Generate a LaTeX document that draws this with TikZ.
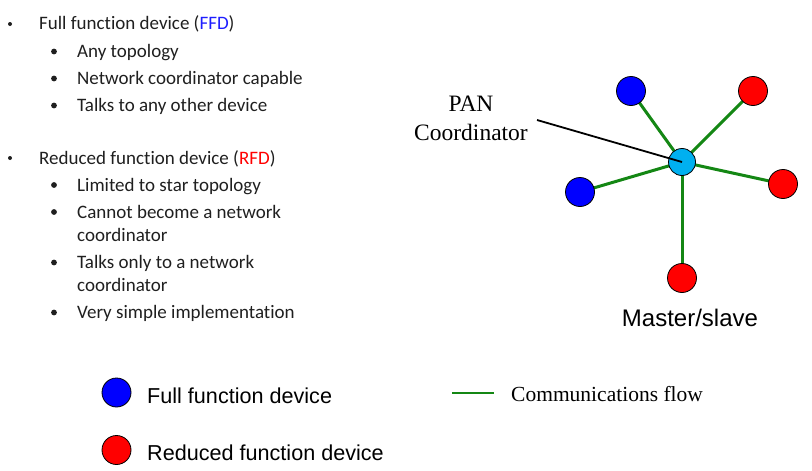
\documentclass[tikz,border=0pt]{standalone}
\usepackage{fontspec}
\usetikzlibrary{shapes.geometric,backgrounds}
\setmainfont[Ligatures={NoCommon}]{Carlito}
\newfontfamily\arialfont{Liberation Sans}
\newfontfamily\timesfont{Liberation Serif}
\definecolor{ffdblue}{RGB}{30,30,255}
\definecolor{hubcyan}{RGB}{0,176,240}
\definecolor{flowgreen}{RGB}{20,135,20}
\begin{document}
\begin{tikzpicture}[x=1pt,y=-1pt,
  bodytext/.style={anchor=base west,inner sep=0pt,text=black!88,font=\fontsize{19}{22}\selectfont},
  dotA/.style={circle,fill=black!88,inner sep=0pt,minimum size=4pt},
  dotB/.style={circle,fill=black!88,inner sep=0pt,minimum size=5.8pt},
  dev/.style={circle,draw=black,line width=0.8pt,inner sep=0pt,minimum size=29pt},
  ffd/.style={dev,fill=blue},
  rfd/.style={dev,fill=red},
  hub/.style={dev,fill=hubcyan,minimum size=27pt},
  link/.style={draw=flowgreen,line width=3pt},
  pointer/.style={draw=black,line width=1.8pt},
  legdev/.style={ellipse,draw=black,line width=0.8pt,inner sep=0pt,minimum width=29pt,minimum height=29pt},
  legend/.style={anchor=base west,inner sep=0pt,font=\arialfont\fontsize{21.6}{24}\selectfont},
  serif/.style={inner sep=0pt,font=\timesfont\fontsize{23.5}{29}\selectfont}]
\useasboundingbox (0,0) rectangle (812,471);
% bullet list
\node[dotA] (b1) at (10,24) {};
\node[bodytext] (t1) at (39,30) {Full function device (\textcolor{ffdblue}{FFD})};
\node[dotB] (s1) at (54,51.5) {};
\node[bodytext] (t2) at (77,57.5) {Any topology};
\node[dotB] (s2) at (54,78.5) {};
\node[bodytext] (t3) at (77,84.5) {Network coordinator capable};
\node[dotB] (s3) at (54,105.5) {};
\node[bodytext] (t4) at (77,111.5) {Talks to any other device};
\node[dotA] (b2) at (10,158) {};
\node[bodytext] (t5) at (39,164) {Reduced function device (\textcolor{red}{RFD})};
\node[dotB] (s4) at (54,185) {};
\node[bodytext] (t6) at (77,191) {Limited to star topology};
\node[dotB] (s5) at (54,212) {};
\node[bodytext] (t7) at (77,218) {Cannot become a network};
\node[bodytext] (t8) at (77,241) {coordinator};
\node[dotB] (s6) at (54,262.5) {};
\node[bodytext] (t9) at (77,268.5) {Talks only to a network};
\node[bodytext] (t10) at (77,291.5) {coordinator};
\node[dotB] (s7) at (54,312.5) {};
\node[bodytext] (t11) at (77,318.5) {Very simple implementation};
% star network
\node[ffd] (n1) at (631,91) {};
\node[rfd] (n2) at (753,91) {};
\node[rfd] (n3) at (783,184) {};
\node[rfd] (n4) at (682,278) {};
\node[ffd] (n5) at (580,192) {};
\node[hub] (pan) at (682,162) {};
\begin{pgfonlayer}{background}
\foreach \n in {n1,n2,n3,n4,n5} \draw[link] (pan.center) -- (\n.center);
\end{pgfonlayer}
\node[serif,align=center] (panlbl) at (471,118) {PAN\\Coordinator};
\coordinate (ptrstart) at (537,120);
\draw[pointer] (ptrstart) -- (pan.center);
\node[inner sep=0pt,font=\arialfont\fontsize{24}{28}\selectfont] (ms) at (690,318) {Master/slave};
% legend
\node[legdev,fill=blue] (lf) at (116.5,392.5) {};
\node[legend] (lft) at (147,403) {Full function device};
\node[legdev,fill=red] (lr) at (116.5,450) {};
\node[legend] (lrt) at (147,460.5) {Reduced function device};
\coordinate (cl1) at (452,393);
\coordinate (cl2) at (494,393);
\draw[draw=flowgreen,line width=2pt] (cl1) -- (cl2);
\node[serif,anchor=base west,font=\timesfont\fontsize{21.5}{26}\selectfont] (clt) at (511,401.5) {Communications flow};
\end{tikzpicture}
\end{document}
